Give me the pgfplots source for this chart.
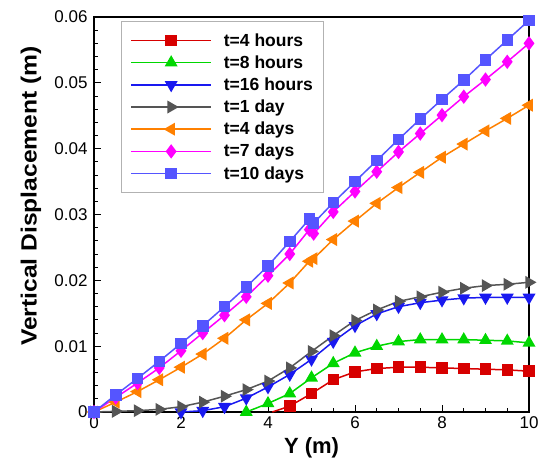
\documentclass[border=0pt]{standalone}
\usepackage{pgfplots}
\pgfplotsset{compat=1.18}
\usepackage{graphicx}
\usepackage{fontspec}
\setmainfont{Liberation Sans}
\definecolor{cA}{RGB}{215,0,0}
\definecolor{cB}{RGB}{0,215,0}
\definecolor{cC}{RGB}{25,25,240}
\definecolor{cD}{RGB}{85,85,85}
\definecolor{cE}{RGB}{255,128,0}
\definecolor{cF}{RGB}{255,0,255}
\definecolor{cG}{RGB}{85,85,255}
\begin{document}
\begin{tikzpicture}
\begin{axis}[
  name=ax,
  scale only axis,
  width=435pt, height=395pt,
  xmin=0, xmax=10, ymin=0, ymax=0.06,
  clip=false,
  axis line style={line width=1.3pt},
  xtick={0,2,4,6,8,10},
  minor x tick num=3,
  scaled y ticks=false,
  ytick={0,0.01,0.02,0.03,0.04,0.05,0.06},
  yticklabels={0,0.01,0.02,0.03,0.04,0.05,0.06},
  minor y tick num=4,
  tick align=inside,
  xtick pos=bottom, ytick pos=left,
  major tick length=7pt, minor tick length=4pt,
  tick style={line width=0.9pt, black},
  /pgf/number format/assume math mode=true,
  ticklabel style={font=\fontsize{17}{19}\selectfont},
  xticklabel style={yshift=-1pt},
  yticklabel style={xshift=-3pt},
  xlabel={Y (m)},
  ylabel={\scalebox{1.12}[1]{Vertical Displacement (m)}},
  label style={font=\bfseries\fontsize{22}{24}\selectfont},
  xlabel style={at={(axis description cs:0.5,-0.091)}, anchor=center},
  ylabel style={at={(axis description cs:-0.145,0.547)}, anchor=center},
  legend image code/.code={\draw[mark repeat=2,mark phase=2,#1,line width=1.5pt] plot coordinates {(0pt,0pt) (40pt,0pt) (80pt,0pt)};},
  legend cell align=left,
  legend style={at={(axis description cs:0.062,0.99)}, anchor=north west,
    draw=black!30, line width=0.9pt,
    font=\bfseries\fontsize{17.5}{19}\selectfont,
    row sep=4pt, column sep=10pt,
    inner xsep=9pt, inner ysep=10pt},
  every axis plot/.append style={line width=1.5pt},
]
\addplot[cA, mark=square*, mark size=5pt, mark options={fill=cA, draw=cA}] coordinates {
(4.5,0.0009) (5,0.0028) (5.5,0.0049) (6,0.0061) (6.5,0.0066) (7,0.0068) (7.5,0.0068) (8,0.0067) (8.5,0.0066) (9,0.0065) (9.5,0.0064) (10,0.0062)};
\addlegendentry{t=4 hours}
\addplot[cB, mark=triangle*, mark size=6pt, mark options={fill=cB, draw=cB}] coordinates {
(3.5,0) (4,0.0013) (4.5,0.0028) (5,0.0052) (5.5,0.0074) (6,0.0090) (6.5,0.0100) (7,0.0107) (7.5,0.0110) (8,0.0110) (8.5,0.0110) (9,0.0109) (9.5,0.0108) (10,0.0105)};
\addlegendentry{t=8 hours}
\addplot[cC, mark=triangle*, mark size=6pt, mark options={fill=cC, draw=cC, rotate=180}] coordinates {
(2,0) (2.5,0.0002) (3,0.0008) (3.5,0.0021) (4,0.0038) (4.5,0.0057) (5,0.008) (5.5,0.0107) (6,0.0131) (6.5,0.0149) (7,0.016) (7.5,0.0166) (8,0.017) (8.5,0.0173) (9,0.0174) (9.5,0.0174) (10,0.0174)};
\addlegendentry{t=16 hours}
\addplot[cD, mark=triangle*, mark size=6pt, mark options={fill=cD, draw=cD, rotate=-90}] coordinates {
(0,0) (0.5,0.0001) (1,0.0002) (1.5,0.0004) (2,0.0008) (2.5,0.0015) (3,0.0024) (3.5,0.0034) (4,0.0047) (4.5,0.0067) (5,0.0092) (5.5,0.0116) (6,0.0139) (6.5,0.0155) (7,0.0168) (7.5,0.0175) (8,0.0182) (8.5,0.0188) (9,0.0192) (9.5,0.0194) (10,0.0197)};
\addlegendentry{t=1 day}
\addplot[cE, mark=triangle*, mark size=6pt, mark options={fill=cE, draw=cE, rotate=90}] coordinates {
(0,0) (0.5,0.0015) (1,0.0031) (1.5,0.0049) (2,0.0068) (2.5,0.0088) (3,0.0112) (3.5,0.014) (4,0.0165) (4.5,0.0196) (4.95,0.0229) (5.05,0.0233) (5.5,0.0262) (6,0.029) (6.5,0.0317) (7,0.0341) (7.5,0.0364) (8,0.0387) (8.5,0.0407) (9,0.0427) (9.5,0.0446) (10,0.0466)};
\addlegendentry{t=4 days}
\addplot[cF, mark=diamond*, mark size=6pt, mark options={fill=cF, draw=cF}] coordinates {
(0,0) (0.5,0.0022) (1,0.0044) (1.5,0.0067) (2,0.0093) (2.5,0.012) (3,0.0147) (3.5,0.0175) (4,0.0207) (4.5,0.024) (4.95,0.0277) (5.05,0.0271) (5.5,0.0304) (6,0.0335) (6.5,0.0365) (7,0.0395) (7.5,0.0423) (8,0.0451) (8.5,0.0479) (9,0.0505) (9.5,0.0532) (10,0.056)};
\addlegendentry{t=7 days}
\addplot[cG, mark=square*, mark size=5pt, mark options={fill=cG, draw=cG}] coordinates {
(0,0) (0.5,0.0026) (1,0.0051) (1.5,0.0077) (2,0.0104) (2.5,0.0131) (3,0.016) (3.5,0.019) (4,0.0222) (4.5,0.0259) (4.95,0.0293) (5.05,0.0287) (5.5,0.0318) (6,0.035) (6.5,0.0382) (7,0.0414) (7.5,0.0445) (8,0.0475) (8.5,0.0504) (9,0.0535) (9.5,0.0565) (10,0.0595)};
\addlegendentry{t=10 days}
\addplot[cA, forget plot] coordinates {(4.1,0) (4.5,0.0009)};
\end{axis}
\pgfresetboundingbox
\path (ax.south west) ++(-94pt,-51pt) rectangle ++(540pt,463pt);
\end{tikzpicture}
\end{document}
